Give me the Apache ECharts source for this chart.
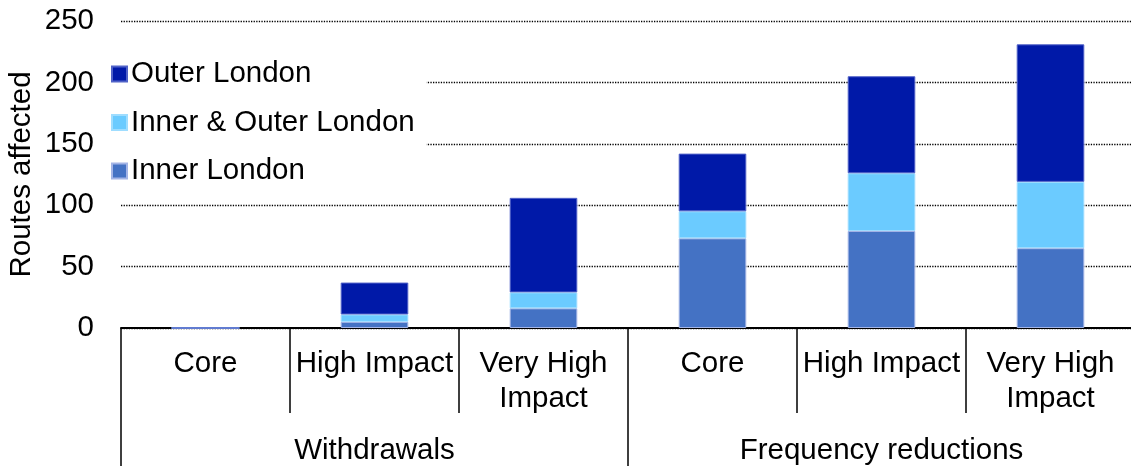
<!DOCTYPE html>
<html>
<head>
<meta charset="utf-8">
<script src="https://cdn.jsdelivr.net/npm/echarts@6/dist/echarts.min.js"></script>
<style>
  html, body { margin: 0; padding: 0; background: #fff; }
  #routesChart { width: 1131px; height: 466px; }
</style>
</head>
<body>
<div id="routesChart"></div>
<script>
// categories
var impactLevels = ['Core', 'High Impact', 'Very High Impact', 'Core', 'High Impact', 'Very High Impact'];
var changeTypes = ['Withdrawals', 'Frequency reductions'];
var yTicks = [0, 50, 100, 150, 200, 250];

// routes affected, by area
var innerLondon = [0, 5, 16, 73, 79, 65];
var innerOuterLondon = [0, 6, 13, 22, 47, 54];
var outerLondon = [0, 26, 77, 47, 79, 112];

var fontFamily = '"Liberation Sans", Arial, sans-serif';
var fontSize = 29.5;

var myChart = echarts.init(document.getElementById('routesChart'));

var option = {
	animation: false,
	textStyle: { fontFamily: fontFamily, color: '#000' },
	grid: { left: 121, right: -4, top: 21, bottom: 138, outerBoundsMode: 'none', containLabel: false },
	legend: {
		orient: 'vertical',
		left: 100,
		top: 47,
		padding: [12, 12, 12, 11],
		backgroundColor: '#fff',
		itemWidth: 15,
		itemHeight: 15,
		itemGap: 18.5,
		icon: 'rect',
		textStyle: { fontSize: fontSize, color: '#000', fontFamily: fontFamily, lineHeight: 29.5, padding: [0, 0, 0, -1] },
		data: ['Outer London', 'Inner & Outer London', 'Inner London']
	},
	xAxis: [
		{
			type: 'category',
			data: impactLevels,
			position: 'bottom',
			axisLine: { show: true, lineStyle: { color: '#000', width: 2 } },
			axisTick: { show: true, length: 85, interval: 0, lineStyle: { color: '#000', width: 1.5 } },
			axisLabel: {
				interval: 0,
				margin: 18,
				fontSize: fontSize,
				lineHeight: 35,
				color: '#000',
				fontFamily: fontFamily,
				formatter: function (v) { return v.replace('Very High ', 'Very High\n'); }
			}
		},
		{
			type: 'category',
			data: changeTypes,
			position: 'bottom',
			axisLine: { show: false, onZero: false },
			axisTick: { show: true, length: 140, interval: 0, lineStyle: { color: '#000', width: 1.5 } },
			axisLabel: { interval: 0, margin: 105, fontSize: fontSize, lineHeight: 35, color: '#000', fontFamily: fontFamily }
		}
	],
	yAxis: {
		type: 'value',
		min: yTicks[0],
		max: yTicks[yTicks.length - 1],
		interval: 50,
		name: 'Routes affected',
		nameLocation: 'middle',
		nameGap: 84,
		nameMoveOverlap: false,
		nameTextStyle: { fontSize: fontSize, color: '#000', fontFamily: fontFamily },
		axisLine: { show: false },
		axisTick: { show: false },
		axisLabel: { margin: 27, fontSize: fontSize, color: '#000', fontFamily: fontFamily },
		splitLine: { lineStyle: { type: 'dotted', color: '#000', width: 1.3 } }
	},
	series: [
		{
			name: 'Inner London',
			type: 'bar',
			stack: 'routes',
			barWidth: '40%',
			data: innerLondon,
			itemStyle: { color: '#4472C4', borderColor: '#A3B4E6', borderWidth: 1 }
		},
		{
			name: 'Inner & Outer London',
			type: 'bar',
			stack: 'routes',
			barWidth: '40%',
			data: innerOuterLondon,
			itemStyle: { color: '#6BCBFF', borderColor: '#9FDDFF', borderWidth: 1 }
		},
		{
			name: 'Outer London',
			type: 'bar',
			stack: 'routes',
			barWidth: '40%',
			data: outerLondon,
			itemStyle: { color: '#0019A8', borderColor: '#5062C8', borderWidth: 1 }
		}
	]
};

myChart.setOption(option);
</script>
</body>
</html>
